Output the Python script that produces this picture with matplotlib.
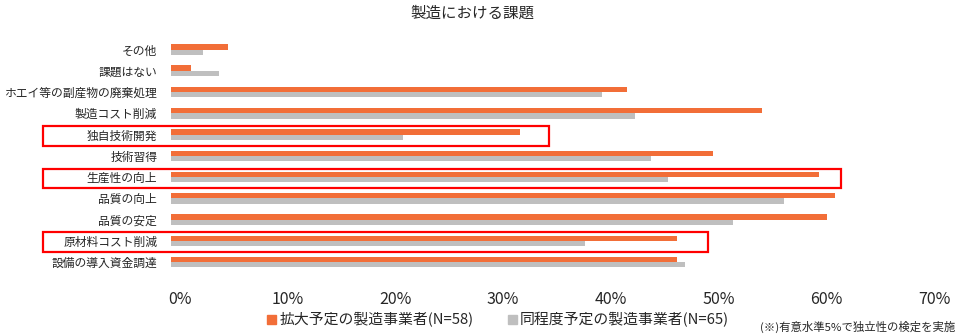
import matplotlib
matplotlib.use("Agg")
import matplotlib.pyplot as plt
import matplotlib.transforms as mtransforms
from matplotlib.patches import Rectangle, Patch
import numpy as np

plt.rcParams['font.family'] = ['Noto Sans CJK JP', 'DejaVu Sans']

title = "製造における課題"
categories = ["その他", "課題はない", "ホエイ等の副産物の廃棄処理", "製造コスト削減",
              "独自技術開発", "技術習得", "生産性の向上", "品質の向上", "品質の安定",
              "原材料コスト削減", "設備の導入資金調達"]
expand = [5.3, 1.9, 42.3, 54.9, 32.4, 50.3, 60.2, 61.6, 60.9, 47.0, 47.0]
same = [3.0, 4.5, 40.0, 43.1, 21.5, 44.6, 46.1, 56.9, 52.2, 38.4, 47.7]
series_names = ["拡大予定の製造事業者(N=58)", "同程度予定の製造事業者(N=65)"]
xticks = [0, 10, 20, 30, 40, 50, 60, 70]
xtick_labels = ["0%", "10%", "20%", "30%", "40%", "50%", "60%", "70%"]
highlighted = ["独自技術開発", "生産性の向上", "原材料コスト削減"]
note = "(※)有意水準5%で独立性の検定を実施"

ORANGE = "#F26E38"
GRAY = "#BFBFBF"

fig = plt.figure(figsize=(9.6, 3.36), dpi=100)
ax = fig.add_axes([171/960, 1-272.8/336, (925-171)/960, (272.8-38.9)/336])

y = np.arange(len(categories))
h = 0.25
ax.barh(y - h/2, expand, height=h, color=ORANGE, label=series_names[0])
ax.barh(y + h/2, same, height=h, color=GRAY, label=series_names[1])

ax.set_xlim(0, 70)
ax.set_ylim(len(categories) - 0.5, -0.5)
ax.set_yticks(y)
ax.set_yticklabels(categories, fontsize=8.5, color="#262626")
ax.set_xticks(xticks)
ax.set_xticklabels(xtick_labels, fontsize=11.5, color="#262626")
ax.tick_params(axis='y', length=0, pad=10)
ax.tick_params(axis='x', length=0, pad=13)
offset = mtransforms.ScaledTranslation(9/100, 0, fig.dpi_scale_trans)
for lab in ax.get_xticklabels():
    lab.set_transform(lab.get_transform() + offset)
for s in ax.spines.values():
    s.set_visible(False)

# highlight boxes (right edge in % units)
box_right = {"独自技術開発": 35.1, "生産性の向上": 62.2, "原材料コスト削減": 49.9}
for name in highlighted:
    i = categories.index(name)
    left = -11.9
    r = Rectangle((left, i - 0.4), box_right[name] - left, 0.93, fill=False,
                  edgecolor="#FF0000", linewidth=1.6, clip_on=False, zorder=5)
    ax.add_patch(r)

fig.text(472/960, 1-13/336, title, ha="center", va="center", fontsize=11.2, color="#262626")

handles = [Patch(color=ORANGE), Patch(color=GRAY)]
fig.legend(handles, series_names, loc="center", bbox_to_anchor=(498/960, 1-320/336),
           ncol=2, frameon=False, fontsize=10.7, handlelength=0.6, handleheight=0.6,
           handletextpad=0.2, columnspacing=2.3, labelcolor="#262626")

fig.text(955/960, 1-327/336, note, ha="right", va="center", fontsize=8.2, color="#262626")

fig.savefig("out.png", dpi=100)
